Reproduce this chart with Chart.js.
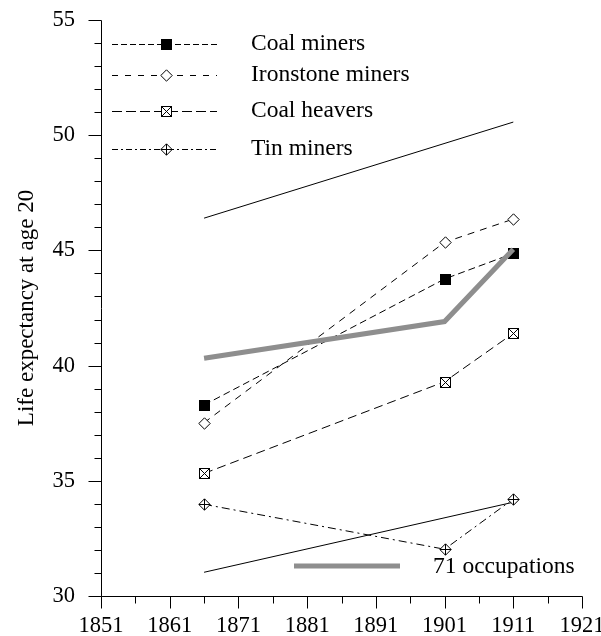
<!DOCTYPE html>
<html><head><meta charset="utf-8">
<script src="https://cdn.jsdelivr.net/npm/chart.js@4"></script>
<style>html,body{margin:0;padding:0;background:#fff}canvas{display:block}</style>
</head><body>
<canvas id="c" width="601" height="636"></canvas>
<script>
// ---- data ----
const years = [1866, 1901, 1911];
const coalMiners = [38.29, 43.76, 44.87];
const ironstoneMiners = [37.52, 45.35, 46.36];
const coalHeavers = [35.32, 39.30, 41.40];
const tinMiners = [33.98, 32.03, 34.21];
const occupations71 = [40.32, 41.91, 45.05];
const boundYears = [1866, 1911];
const upperBound = [46.40, 50.57];
const lowerBound = [31.03, 34.07];
const xTicks = [1851, 1861, 1871, 1881, 1891, 1901, 1911, 1921];
const yTicks = [30, 35, 40, 45, 50, 55];
const seriesNames = ['Coal miners', 'Ironstone miners', 'Coal heavers', 'Tin miners'];
const refLabel = '71 occupations';
const yTitle = 'Life expectancy at age 20';

// ---- styles ----
const SERIF = "'Liberation Serif', 'Times New Roman', serif";
Chart.defaults.font.family = SERIF;
Chart.defaults.color = '#000';
const GRAY = '#8e8e8e';
const dashes = [[7, 4], [7, 6], [9, 5], [8, 4, 2, 4]];
const legendDashes = [[6, 3], [6, 7], [10, 4], [6, 3, 2, 3]];

function mk(draw) {
  const c = document.createElement('canvas');
  c.width = 13; c.height = 13;
  const g = c.getContext('2d');
  g.lineWidth = 1; g.strokeStyle = '#000';
  draw(g);
  return c;
}
const mSquare = mk(g => { g.fillStyle = '#000'; g.fillRect(1, 1, 11, 11); });
function diamondPath(g) { g.beginPath(); g.moveTo(6.5, 0.8); g.lineTo(12.2, 6.5); g.lineTo(6.5, 12.2); g.lineTo(0.8, 6.5); g.closePath(); }
const mDiamond = mk(g => { g.fillStyle = '#fff'; diamondPath(g); g.fill(); g.stroke(); });
const mBoxX = mk(g => {
  g.fillStyle = '#fff'; g.fillRect(1.5, 1.5, 10, 10); g.strokeRect(1.5, 1.5, 10, 10);
  g.beginPath(); g.moveTo(1.5, 1.5); g.lineTo(11.5, 11.5); g.moveTo(11.5, 1.5); g.lineTo(1.5, 11.5); g.stroke();
});
const mDiamondPlus = mk(g => {
  g.fillStyle = '#fff'; diamondPath(g); g.fill(); g.stroke();
  g.beginPath(); g.moveTo(6.5, 1); g.lineTo(6.5, 12); g.moveTo(1, 6.5); g.lineTo(12, 6.5); g.stroke();
});
const markers = [mSquare, mDiamond, mBoxX, mDiamondPlus];

function pts(xs, ys) { return xs.map((x, i) => ({ x, y: ys[i] })); }
function thin(label, xs, ys) {
  return { label, data: pts(xs, ys), borderColor: '#000', borderWidth: 1, pointRadius: 0, fill: false, tension: 0, order: 2 };
}
function series(i, ys) {
  return { label: seriesNames[i], data: pts(years, ys), borderColor: '#000', borderWidth: 1, borderDash: dashes[i],
    pointStyle: markers[i], pointRadius: 0, pointHoverRadius: 0, marker: markers[i], fill: false, tension: 0, order: 1 };
}

// markers drawn at the library-computed point positions, snapped to whole pixels
const markerPlugin = {
  id: 'markerPlugin',
  afterDatasetDraw(chart, args) {
    const ds = chart.data.datasets[args.index];
    if (!ds.marker) return;
    const ctx = chart.ctx;
    args.meta.data.forEach(el => {
      ctx.drawImage(ds.marker, Math.round(el.x) - 6, Math.round(el.y) - 6);
    });
  }
};

const axesPlugin = {
  id: 'axesPlugin',
  afterDraw(chart) {
    const ctx = chart.ctx;
    const xs = chart.scales.x, ys = chart.scales.y;
    const ax = Math.round(xs.getPixelForValue(1851)) + 0.5;
    const ay = Math.round(ys.getPixelForValue(30)) + 0.5;
    const topY = Math.round(ys.getPixelForValue(55)) + 0.5;
    const rightX = Math.round(xs.getPixelForValue(1921)) + 0.5;
    ctx.save();
    ctx.strokeStyle = '#000'; ctx.lineWidth = 1; ctx.setLineDash([]);
    ctx.beginPath();
    ctx.moveTo(ax, topY); ctx.lineTo(ax, ay);
    ctx.moveTo(ax, ay); ctx.lineTo(rightX, ay);
    for (let v = 30; v <= 55; v += 1) {
      const p = Math.round(ys.getPixelForValue(v)) + 0.5;
      const len = (v % 5 === 0) ? 13 : 7;
      ctx.moveTo(ax - len, p); ctx.lineTo(ax, p);
    }
    for (let v = 1851; v <= 1921; v += 5) {
      const p = Math.round(xs.getPixelForValue(v)) + 0.5;
      const len = ((v - 1851) % 10 === 0) ? 12 : 7;
      ctx.moveTo(p, ay); ctx.lineTo(p, ay + len);
    }
    ctx.stroke();

    // legend
    const rows = [44, 75, 111, 149];
    for (let i = 0; i < 4; i++) {
      const y = rows[i] + 0.5;
      ctx.setLineDash(legendDashes[i]);
      ctx.beginPath(); ctx.moveTo(112, y); ctx.lineTo(217, y); ctx.stroke();
      ctx.setLineDash([]);
      ctx.drawImage(markers[i], 166 - 6, rows[i] - 6);
      ctx.fillStyle = '#000';
      ctx.font = '23.5px ' + SERIF;
      ctx.textBaseline = 'middle'; ctx.textAlign = 'left';
      ctx.fillText(seriesNames[i], 251, rows[i]);
    }
    ctx.strokeStyle = GRAY; ctx.lineWidth = 5; ctx.setLineDash([]);
    ctx.beginPath(); ctx.moveTo(294, 566); ctx.lineTo(400, 566); ctx.stroke();
    ctx.fillStyle = '#000';
    ctx.font = '23.5px ' + SERIF;
    ctx.textBaseline = 'middle';
    ctx.fillText(refLabel, 433, 567);
    ctx.restore();
  }
};

new Chart(document.getElementById('c'), {
  type: 'line',
  data: {
    datasets: [
      { label: refLabel, data: pts(years, occupations71), borderColor: GRAY, borderWidth: 5, pointRadius: 0, fill: false, tension: 0, order: 0, borderJoinStyle: 'miter' },
      series(0, coalMiners),
      series(1, ironstoneMiners),
      series(2, coalHeavers),
      series(3, tinMiners),
      thin('upper', boundYears, upperBound),
      thin('lower', boundYears, lowerBound)
    ]
  },
  options: {
    responsive: false,
    devicePixelRatio: 1,
    animation: false,
    events: [],
    layout: { padding: { left: 0, top: 20, right: 19, bottom: 0 } },
    plugins: { legend: { display: false }, tooltip: { enabled: false } },
    scales: {
      x: {
        type: 'linear', min: 1851, max: 1921,
        afterBuildTicks: s => { s.ticks = xTicks.map(v => ({ value: v })); },
        afterFit: s => { s.height = 40; s.paddingLeft = 0; s.paddingRight = 0; },
        grid: { display: false, drawTicks: false },
        border: { display: false },
        ticks: { padding: 17, maxRotation: 0, autoSkip: false, font: { size: 22.5 }, color: '#000', callback: v => String(v) }
      },
      y: {
        type: 'linear', min: 30, max: 55,
        afterBuildTicks: s => { s.ticks = yTicks.map(v => ({ value: v })); },
        afterFit: s => { s.width = 101; s.paddingTop = 0; s.paddingBottom = 0; },
        grid: { display: false, drawTicks: false },
        border: { display: false },
        ticks: { padding: 26, font: { size: 22.5 }, color: '#000', callback: v => String(v) },
        title: { display: true, text: yTitle, font: { size: 23 }, color: '#000', padding: { top: 13, bottom: 0 } }
      }
    }
  },
  plugins: [markerPlugin, axesPlugin]
});
</script>
</body></html>
